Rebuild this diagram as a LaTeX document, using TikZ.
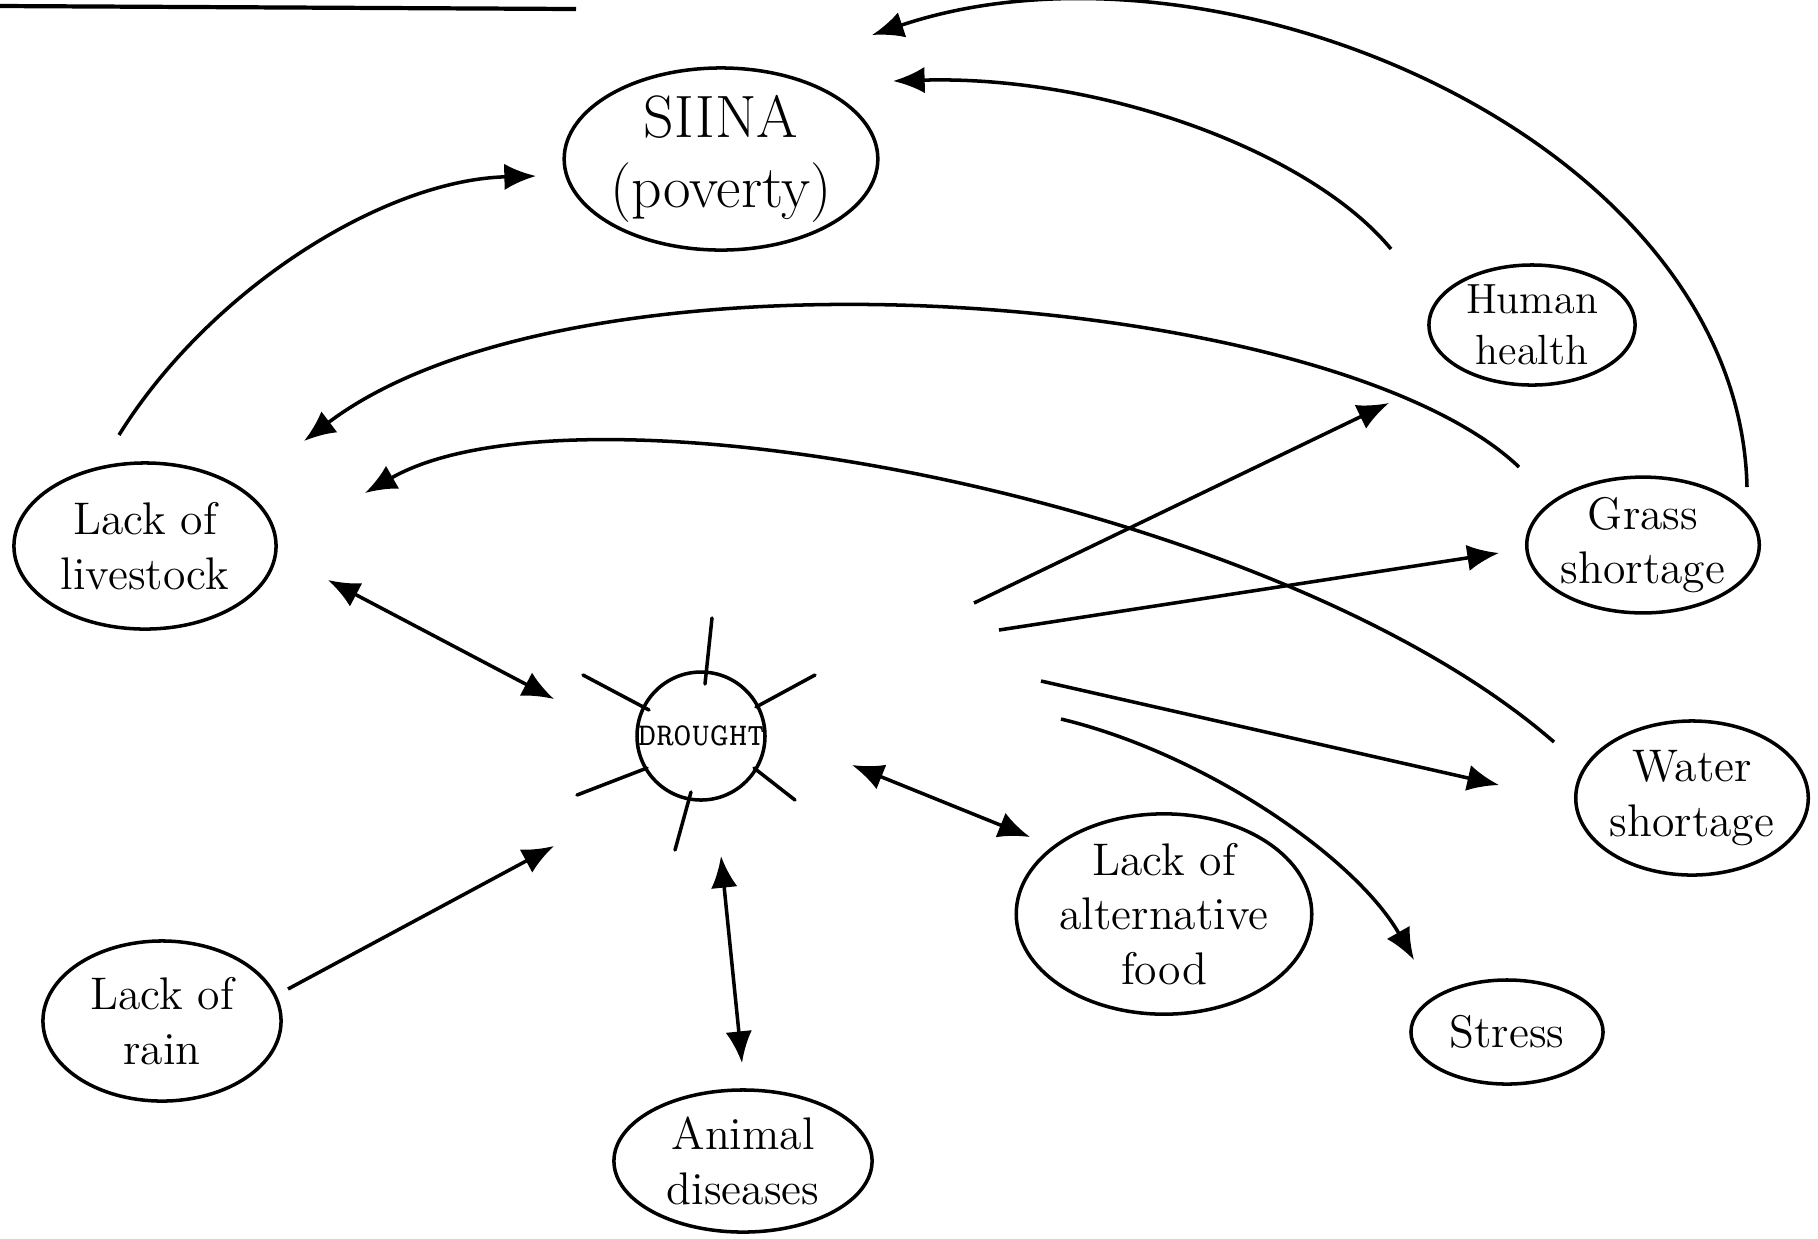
\documentclass[tikz,border=0pt]{standalone}
\usetikzlibrary{shapes.geometric,arrows.meta}
\begin{document}
\begin{tikzpicture}[x=0.01cm,y=-0.01cm,
  blob/.style={ellipse,draw,line width=1pt,inner sep=0pt,align=center,font=\fontsize{13}{15.5}\selectfont},
  tip/.tip={Latex[length=9pt,width=7.5pt]},
  link/.style={line width=1pt,-tip},
  both/.style={line width=1pt,tip-tip},
  ray/.style={line width=1pt,line cap=round}]
\useasboundingbox (0,0) rectangle (1818,1238);
\fill[white] (0,0) rectangle (1818,1238);

% top rule
\coordinate (r0) at (0,6);
\coordinate (r1) at (576,9);
\draw[line width=1.2pt] (r0) -- (r1);

% nodes
\node[blob,minimum width=2.96cm,minimum height=1.82cm,font=\fontsize{17}{20}\selectfont] (siina) at (721,159) {SIINA\\(poverty)};
\node[blob,minimum width=2.06cm,minimum height=1.2cm,font=\fontsize{12}{14.5}\selectfont] (health) at (1532,325) {Human\\health};
\node[blob,minimum width=2.62cm,minimum height=1.66cm] (live) at (145,546) {Lack of\\livestock};
\node[blob,minimum width=2.14cm,minimum height=1.32cm] (grass) at (1643,545) {Grass\\shortage};
\node[circle,draw,line width=1pt,minimum size=1.12cm,inner sep=0pt,font=\fontsize{5}{6}\bfseries\selectfont] (dr) at (701,736) {\scalebox{0.92}[1.6]{DROUGHT}};
\node[blob,minimum width=2.3cm,minimum height=1.54cm] (water) at (1692,798) {Water\\shortage};
\node[blob,minimum width=2.92cm,minimum height=1.94cm] (food) at (1164,914) {Lack of\\alternative\\food};
\node[blob,minimum width=1.92cm,minimum height=1.04cm] (stress) at (1507,1032) {Stress};
\node[blob,minimum width=2.38cm,minimum height=1.6cm] (rain) at (162,1021) {Lack of\\rain};
\node[blob,minimum width=2.58cm,minimum height=1.42cm] (anim) at (743,1161) {Animal\\diseases};

% sun rays around drought
\draw[ray] (712,618) -- (705,684);
\draw[ray] (583,675) -- (649,710);
\draw[ray] (815,675) -- (756,707);
\draw[ray] (577,795) -- (647,768);
\draw[ray] (795,800) -- (754,768);
\draw[ray] (675,850) -- (691,792);

% connector end points
\coordinate (c1s) at (119,435);  \coordinate (c1e) at (536,176);
\coordinate (c2s) at (1391,249); \coordinate (c2e) at (893,81);
\coordinate (c3s) at (1747,487); \coordinate (c3e) at (872,35);
\coordinate (c4s) at (1519,467); \coordinate (c4e) at (304,441);
\coordinate (c5s) at (1554,742); \coordinate (c5e) at (365,493);
\coordinate (c6s) at (328,580);  \coordinate (c6e) at (554,699);
\coordinate (c7s) at (288,989);  \coordinate (c7e) at (554,846);
\coordinate (c8s) at (721,856);  \coordinate (c8e) at (742,1063);
\coordinate (c9s) at (852,765);  \coordinate (c9e) at (1030,837);
\coordinate (c10s) at (974,603); \coordinate (c10e) at (1389,403);
\coordinate (c11s) at (999,630); \coordinate (c11e) at (1499,553);
\coordinate (c12s) at (1041,681); \coordinate (c12e) at (1499,785);
\coordinate (c13s) at (1061,719); \coordinate (c13e) at (1414,960);

% connectors
\draw[link] (c1s) .. controls (209,290) and (383,180) .. (c1e);
\draw[link] (c2s) .. controls (1310,151) and (1101,75) .. (c2e);
\draw[link] (c3s) .. controls (1739,139) and (1217,-81) .. (c3e);
\draw[link] (c4s) .. controls (1333,290) and (580,232) .. (c4e);
\draw[link] (c5s) .. controls (1275,499) and (580,370) .. (c5e);
\draw[both] (c6s) -- (c6e);
\draw[link] (c7s) -- (c7e);
\draw[both] (c8s) -- (c8e);
\draw[both] (c9s) -- (c9e);
\draw[link] (c10s) -- (c10e);
\draw[link] (c11s) -- (c11e);
\draw[link] (c12s) -- (c12e);
\draw[link] (c13s) .. controls (1206,754) and (1356,858) .. (c13e);
\end{tikzpicture}
\end{document}
